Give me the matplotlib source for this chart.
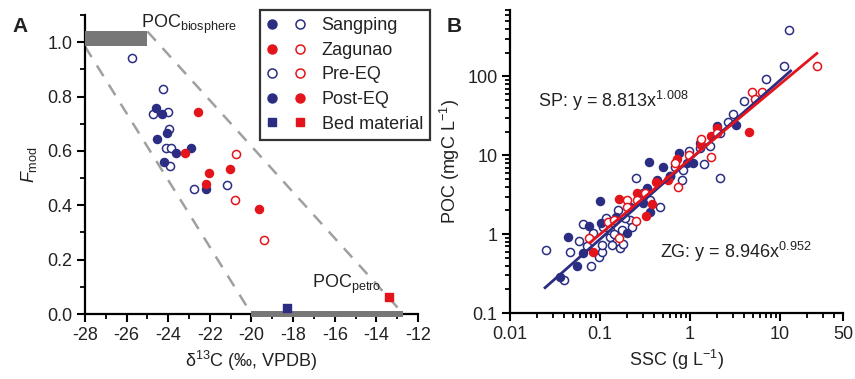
import matplotlib
matplotlib.use('Agg')
import matplotlib.pyplot as plt
import numpy as np
from matplotlib.lines import Line2D
from matplotlib.legend_handler import HandlerTuple
from matplotlib.ticker import MultipleLocator, LogLocator, NullFormatter

plt.rcParams['font.family'] = ['Liberation Sans', 'DejaVu Sans']
plt.rcParams['mathtext.fontset'] = 'custom'
plt.rcParams['mathtext.rm'] = 'Liberation Sans'
plt.rcParams['mathtext.it'] = 'Liberation Sans:italic'
plt.rcParams['axes.unicode_minus'] = False

BLUE = '#2b2d83'
RED = '#e3141c'
GRAY = '#777777'
TXT = '#222222'

# ---- panel A data (d13C, Fmod)
a_sp_pre_x = [-25.73, -24.27, -24.72, -24.0, -23.95, -24.12, -23.87, -23.92, -22.76, -21.19]
a_sp_pre_y = [0.942, 0.829, 0.736, 0.745, 0.681, 0.612, 0.612, 0.544, 0.459, 0.476]
a_sp_post_x = [-24.59, -24.32, -24.05, -24.56, -23.63, -22.93, -24.2, -22.2]
a_sp_post_y = [0.760, 0.736, 0.666, 0.646, 0.594, 0.612, 0.561, 0.459]
a_zg_post_x = [-22.57, -23.19, -22.04, -21.05, -22.17, -19.64]
a_zg_post_y = [0.744, 0.591, 0.520, 0.534, 0.477, 0.387]
a_zg_pre_x = [-20.76, -20.79, -19.4]
a_zg_pre_y = [0.589, 0.418, 0.271]
bed_sp = (-18.28, 0.021)
bed_zg = (-13.39, 0.064)

# end-member boxes and mixing envelope
bio_x = (-28, -25.0)
bio_y = (0.985, 1.04)
petro_x = (-20.0, -12.7)
petro_y = (-0.01, 0.01)
env_upper = ([-25.0, -12.7], [1.04, 0.0])
env_lower = ([-28.0, -20.0], [0.985, 0.0])

# ---- panel B data (SSC g/L, POC mgC/L)
b_sp_pre_x = [12.6, 11.1, 7.0, 4.0, 3.03, 2.67, 2.15, 1.67, 1.41, 2.15, 0.98, 0.82, 0.68, 0.46,
              0.249, 0.36, 0.157, 0.117, 0.065, 0.059, 0.046, 0.025, 0.040, 0.079, 0.098, 0.104,
              0.104, 0.129, 0.135, 0.167, 0.179, 0.174, 0.215, 0.19, 0.129, 0.144, 0.60, 0.84,
              1.29, 0.083, 0.071, 0.108, 0.30, 0.225]
b_sp_pre_y = [386, 136, 91.6, 48.7, 33, 26.7, 19.4, 13.1, 7.7, 5.2, 11.4, 4.9, 7.2, 2.2,
              5.2, 2.7, 2.0, 1.6, 1.35, 0.83, 0.59, 0.63, 0.26, 0.39, 0.51, 0.59,
              0.73, 0.92, 0.73, 0.66, 0.76, 1.13, 1.52, 1.6, 1.13, 1.0, 5.5, 6.5,
              12.3, 1.03, 0.70, 1.25, 3.3, 1.25]
b_sp_post_x = [0.353, 0.1, 0.0445, 0.055, 0.036, 0.076, 0.102, 0.198, 0.33, 0.36, 0.30, 0.506,
               0.76, 0.92, 1.09, 2.01, 3.2, 1.29, 0.60, 0.43, 0.215, 0.15, 0.065]
b_sp_post_y = [8.3, 2.67, 0.93, 0.40, 0.29, 1.27, 1.4, 1.03, 3.8, 1.94, 2.5, 7.2,
               10.6, 7.9, 7.9, 23.5, 24.2, 14.2, 5.4, 4.9, 2.2, 1.67, 0.57]
b_zg_post_x = [4.56, 2.01, 1.70, 1.31, 0.71, 0.57, 0.42, 0.26, 0.32, 0.375, 0.164, 0.084]
b_zg_post_y = [19.5, 22, 17.6, 13.5, 8.9, 4.9, 4.6, 3.3, 1.68, 2.4, 2.8, 0.59]
b_zg_pre_x = [25.5, 6.25, 4.93, 5.3, 1.98, 1.71, 1.32, 0.98, 0.74, 0.68, 0.316, 0.249, 0.255,
              0.198, 0.198, 0.164, 0.122, 0.144, 0.076]
b_zg_pre_y = [136, 64, 64, 52, 19.4, 9.6, 16, 10.1, 4.0, 7.9, 3.3, 1.45, 2.7,
              2.7, 2.2, 0.89, 1.41, 1.52, 0.89]

# power-law fits y = a * x^b and their x ranges
sp_fit = (8.813, 1.008, 0.0245, 13.1)
zg_fit = (8.946, 0.952, 0.077, 25.6)

fig = plt.figure(figsize=(8.55, 3.79), dpi=100)
axA = fig.add_axes([0.0994, 0.1715, 0.3895, 0.7885])
axB = fig.add_axes([0.5965, 0.174, 0.3895, 0.80])

ms = 34
lw_open = 1.1

def style(ax):
    for s in ['top', 'right']:
        ax.spines[s].set_visible(False)
    for s in ['left', 'bottom']:
        ax.spines[s].set_linewidth(1.6)
    ax.tick_params(which='major', direction='out', length=6, width=1.5, labelsize=13,
                   pad=3, labelcolor=TXT)
    ax.tick_params(which='minor', direction='out', length=3.5, width=1.3)

# ---------------- panel A
axA.fill_between(bio_x, bio_y[0], bio_y[1], color=GRAY, lw=0, zorder=4, clip_on=False)
axA.fill_between(petro_x, petro_y[0], petro_y[1], color=GRAY, lw=0, zorder=4, clip_on=False)
axA.plot(*env_upper, color='#a0a0a0', lw=1.8, ls=(0, (5, 4)), zorder=2)
axA.plot(*env_lower, color='#a0a0a0', lw=1.8, ls=(0, (5, 4)), zorder=2)

axA.scatter(a_sp_pre_x, a_sp_pre_y, s=ms, facecolors='white', edgecolors=BLUE, linewidths=lw_open, zorder=3)
axA.scatter(a_sp_post_x, a_sp_post_y, s=ms, color=BLUE, zorder=3)
axA.scatter(a_zg_post_x, a_zg_post_y, s=ms, color=RED, zorder=3)
axA.scatter(a_zg_pre_x, a_zg_pre_y, s=ms, facecolors='white', edgecolors=RED, linewidths=lw_open, zorder=3)
axA.scatter([bed_sp[0]], [bed_sp[1]], s=40, marker='s', color=BLUE, zorder=5, clip_on=False)
axA.scatter([bed_zg[0]], [bed_zg[1]], s=40, marker='s', color=RED, zorder=5, clip_on=False)

axA.set_xlim(-28, -12)
axA.set_ylim(0, 1.1)
axA.xaxis.set_major_locator(MultipleLocator(2))
axA.xaxis.set_minor_locator(MultipleLocator(1))
axA.yaxis.set_minor_locator(MultipleLocator(0.1))
axA.set_yticks([0, 0.2, 0.4, 0.6, 0.8, 1.0])
axA.set_yticklabels(['0.0', '0.2', '0.4', '0.6', '0.8', '1.0'])
style(axA)
axA.set_xlabel('δ$^{13}$C (‰, VPDB)', fontsize=13, labelpad=4, color=TXT)
axA.set_ylabel(r'$\it{F}_{\rm mod}$', fontsize=13, labelpad=6, color=TXT)

axA.text(-25.3, 1.065, r'POC$_{\rm biosphere}$', fontsize=13, ha='left', va='center', color=TXT)
axA.text(-17.1, 0.11, r'POC$_{\rm petro}$', fontsize=13, ha='left', va='center', color=TXT)

h_sp = (Line2D([], [], ls='', marker='o', color=BLUE, ms=6.5),
        Line2D([], [], ls='', marker='o', mfc='white', mec=BLUE, mew=lw_open, ms=6.5))
h_zg = (Line2D([], [], ls='', marker='o', color=RED, ms=6.5),
        Line2D([], [], ls='', marker='o', mfc='white', mec=RED, mew=lw_open, ms=6.5))
h_pre = (Line2D([], [], ls='', marker='o', mfc='white', mec=BLUE, mew=lw_open, ms=6.5),
         Line2D([], [], ls='', marker='o', mfc='white', mec=RED, mew=lw_open, ms=6.5))
h_post = (Line2D([], [], ls='', marker='o', color=BLUE, ms=6.5),
          Line2D([], [], ls='', marker='o', color=RED, ms=6.5))
h_bed = (Line2D([], [], ls='', marker='s', color=BLUE, ms=6),
         Line2D([], [], ls='', marker='s', color=RED, ms=6))
leg = axA.legend([h_sp, h_zg, h_pre, h_post, h_bed],
                 ['Sangping', 'Zagunao', 'Pre-EQ', 'Post-EQ', 'Bed material'],
                 handler_map={tuple: HandlerTuple(ndivide=None, pad=1.0)},
                 loc='upper left', bbox_to_anchor=(0.526, 1.017), borderaxespad=0,
                 fontsize=13, frameon=True, fancybox=False, edgecolor='black',
                 handlelength=2.1, handletextpad=0.9, labelspacing=0.42, borderpad=0.4)
leg.get_frame().set_linewidth(1.6)
for t in leg.get_texts():
    t.set_color(TXT)
leg.set_zorder(6)

fig.text(0.015, 0.915, 'A', fontsize=15, fontweight='bold', color=TXT)

# ---------------- panel B
axB.scatter(b_sp_pre_x, b_sp_pre_y, s=ms, facecolors='white', edgecolors=BLUE, linewidths=lw_open, zorder=3)
axB.scatter(b_sp_post_x, b_sp_post_y, s=ms, color=BLUE, zorder=3)
axB.scatter(b_zg_post_x, b_zg_post_y, s=ms, color=RED, zorder=3)
axB.scatter(b_zg_pre_x, b_zg_pre_y, s=ms, facecolors='white', edgecolors=RED, linewidths=lw_open, zorder=3)

for (a, b, x0, x1), c in [(sp_fit, BLUE), (zg_fit, RED)]:
    xs = np.array([x0, x1])
    axB.plot(xs, a * xs ** b, color=c, lw=2.0, zorder=4)

axB.set_xscale('log')
axB.set_yscale('log')
axB.set_xlim(0.01, 50)
axB.set_ylim(0.1, 700)
axB.set_xticks([0.01, 0.1, 1, 10, 50])
axB.set_xticklabels(['0.01', '0.1', '1', '10', '50'])
axB.set_yticks([0.1, 1, 10, 100])
axB.set_yticklabels(['0.1', '1', '10', '100'])
axB.xaxis.set_minor_locator(LogLocator(base=10, subs=np.arange(2, 10)))
axB.yaxis.set_minor_locator(LogLocator(base=10, subs=np.arange(2, 10)))
axB.xaxis.set_minor_formatter(NullFormatter())
axB.yaxis.set_minor_formatter(NullFormatter())
style(axB)
axB.set_xlabel(r'SSC (g L$^{-1}$)', fontsize=13, labelpad=4, color=TXT)
axB.set_ylabel(r'POC (mgC L$^{-1}$)', fontsize=13, labelpad=4, color=TXT)

axB.text(0.084, 0.70, r'SP: y = 8.813x$^{1.008}$', transform=axB.transAxes, fontsize=13,
         va='center', color=TXT)
axB.text(0.45, 0.20, r'ZG: y = 8.946x$^{0.952}$', transform=axB.transAxes, fontsize=13,
         va='center', color=TXT)

fig.text(0.522, 0.915, 'B', fontsize=15, fontweight='bold', color=TXT)

fig.savefig('out.png', dpi=100)
